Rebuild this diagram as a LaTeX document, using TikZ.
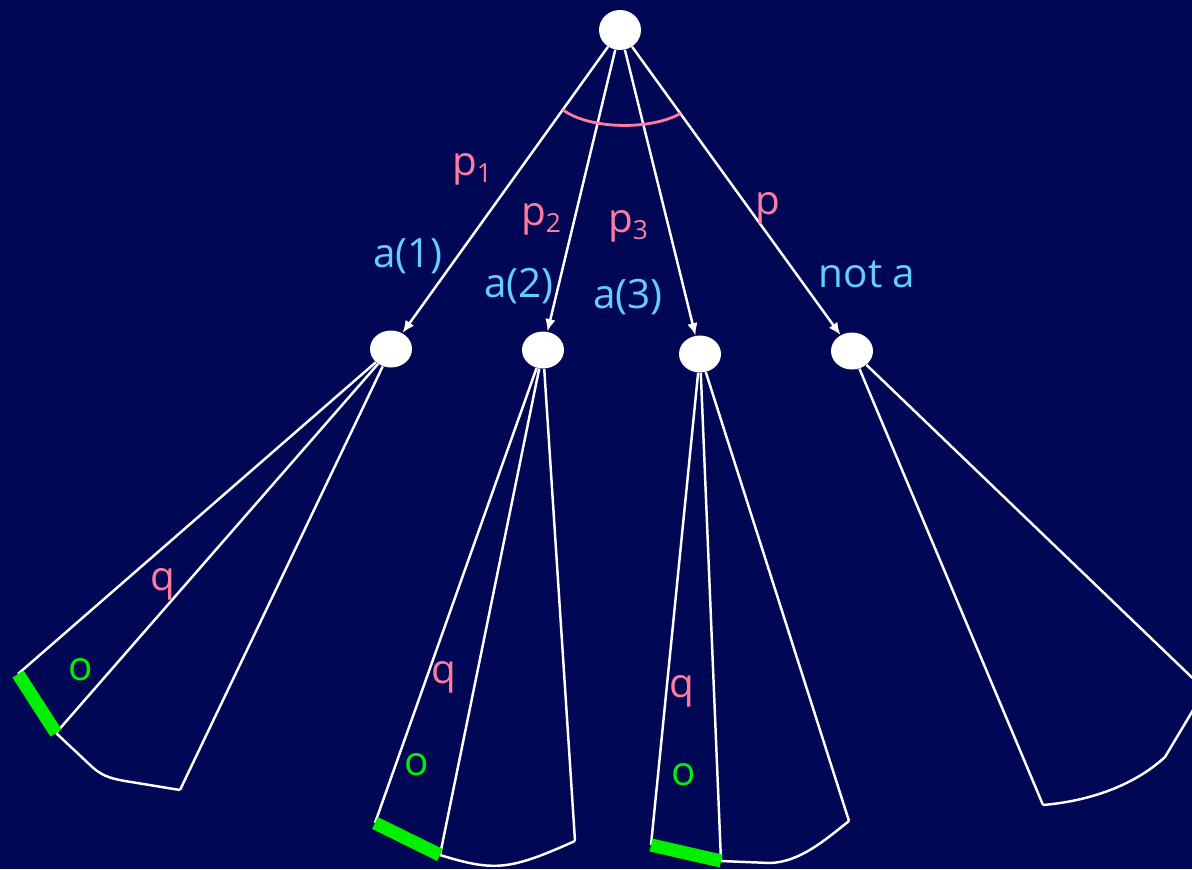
\documentclass[tikz,border=0pt]{standalone}
\usepackage{fontspec}
\setmainfont{Open Sans}
\usetikzlibrary{calc,arrows.meta,shapes.geometric}
\definecolor{bgblue}{RGB}{0,8,86}
\definecolor{pinklbl}{RGB}{255,124,160}
\definecolor{bluelbl}{RGB}{102,204,255}
\definecolor{goalgreen}{RGB}{0,240,0}
\newcommand{\low}[1]{\raisebox{-4.5pt}{\fontsize{15}{15}\selectfont #1}}

\begin{document}
\begin{tikzpicture}[x=0.02cm,y=-0.02cm,>={Latex[length=2.5mm,width=2.1mm]},
  state/.style={ellipse,fill=white,inner sep=0pt,minimum width=0.84cm,minimum height=0.74cm},
  wire/.style={white,line width=1.4pt,line join=round},
  tag/.style={font=\fontsize{23}{27}\selectfont,anchor=base,inner sep=0pt},
  prob/.style={tag,text=pinklbl},
  act/.style={tag,text=bluelbl},
  goal/.style={tag,text=goalgreen},
  goalbar/.style={goalgreen,line width=7.5pt}]
  \useasboundingbox (0,0) rectangle (1192,869);
  \fill[bgblue] (0,0) rectangle (1192,869);
  \clip (0,0) rectangle (1192,869);

  % root and its four successors
  \node[state,minimum height=0.8cm] (root) at (620,30) {};
  \node[state] (s1) at (391,349) {};
  \node[state] (s2) at (543,350) {};
  \node[state] (s3) at (700,354) {};
  \node[state] (s4) at (852,351) {};
  \foreach \n in {s1,s2,s3,s4}
    \draw[wire,->] (root) -- (\n);

  % pink arc over the three a-branches
  \coordinate (arcL) at ($(root)!0.25!(s1)$);
  \coordinate (arcR) at ($(root)!0.26!(s4)$);
  \draw[pinklbl,line width=1.6pt] (arcL) .. controls (590,130) and (652,130) .. (arcR);

  % branch labels
  \foreach \nm/\lbl/\xx/\yy in {lp1/p\low{1}/472/175, lp2/p\low{2}/541/225, lp3/p\low{3}/628/232, lp/p/768/214}
    \node[prob] (\nm) at (\xx,\yy) {\lbl};
  \foreach \nm/\lbl/\xx/\yy in {la1/a(1)/408/267, la2/a(2)/519/297, la3/a(3)/628/308, lna/not a/867/287}
    \node[act] (\nm) at (\xx,\yy) {\lbl};

  % cone below s1
  \coordinate (t1a) at (18,674);
  \coordinate (t1b) at (56,733);
  \coordinate (t1c) at (180,790);
  \draw[wire] (s1) -- (t1a);
  \draw[wire] (s1) -- (t1b);
  \draw[wire] (s1) -- (t1c);
  \draw[wire] (t1b) -- (88,763) .. controls (100,775) and (108,778) .. (125,781) -- (t1c);
  \draw[goalbar] (t1a) -- (t1b);
  \node[prob] (q1) at (163,590) {q};
  \node[goal] (o1) at (81,680) {o};

  % cone below s2
  \coordinate (t2a) at (375,823);
  \coordinate (t2b) at (440,855);
  \coordinate (t2c) at (575,841);
  \draw[wire] (s2) -- (t2a);
  \draw[wire] (s2) -- (t2b);
  \draw[wire] (s2) -- (t2c);
  \draw[wire] (t2b) .. controls (495,872) and (510,870) .. (t2c);
  \draw[goalbar] (t2a) -- (t2b);
  \node[prob] (q2) at (444,683) {q};
  \node[goal] (o2) at (417,775) {o};

  % cone below s3
  \coordinate (t3a) at (651,845);
  \coordinate (t3b) at (721,861);
  \coordinate (t3c) at (849,821);
  \draw[wire] (s3) -- (t3a);
  \draw[wire] (s3) -- (t3b);
  \draw[wire] (s3) -- (t3c);
  \draw[wire] (t3b) -- (770,863) .. controls (800,862) and (825,840) .. (t3c);
  \draw[goalbar] (t3a) -- (t3b);
  \node[prob] (q3) at (682,697) {q};
  \node[goal] (o3) at (684,785) {o};

  % cone below s4
  \coordinate (t4a) at (1043,805);
  \coordinate (t4b) at (1205,690);
  \draw[wire] (s4) -- (t4a);
  \draw[wire] (s4) -- (t4b);
  \draw[wire] (t4a) .. controls (1100,800) and (1140,780) .. (1165,757) -- (t4b);
\end{tikzpicture}
\end{document}
